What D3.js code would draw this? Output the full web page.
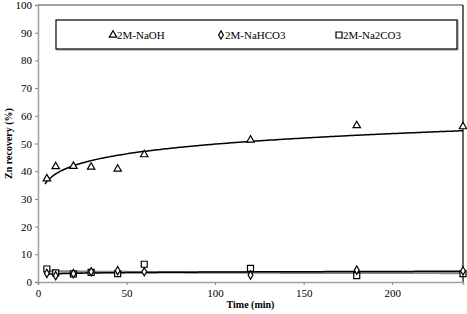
<!DOCTYPE html>
<html>
<head>
<meta charset="utf-8">
<script src="https://cdn.jsdelivr.net/npm/d3@7"></script>
<style>
  body { margin: 0; background: #fff; }
</style>
</head>
<body>
<div id="chart"></div>
<script>
// Data
const times = [5, 10, 20, 30, 45, 60, 120, 180, 240];
const naoh = [37.3, 41.7, 41.8, 41.5, 40.8, 46, 51.3, 56.5, 56.1];
const nahco3 = [3.1, 2.3, 3.0, 3.7, 4.1, 3.7, 2.5, 4.3, 4.0];
const na2co3 = [4.7, 3.3, 2.9, 3.5, 3.0, 6.4, 4.9, 2.3, 3.0];
const xTicks = [0, 50, 100, 150, 200];
const yTicks = [0, 10, 20, 30, 40, 50, 60, 70, 80, 90, 100];

const FONT = "Liberation Serif";
const width = 467, height = 314;
const margin = { top: 5, right: 4, bottom: 32, left: 38 };
const w = width - margin.left - margin.right;
const h = height - margin.top - margin.bottom;

const svg = d3.select("#chart").append("svg")
    .attr("width", width)
    .attr("height", height)
    .attr("font-family", FONT);

const g = svg.append("g")
    .attr("transform", `translate(${margin.left},${margin.top})`);

const x = d3.scaleLinear().domain([0, 240]).range([0, w]);
const y = d3.scaleLinear().domain([0, 100]).range([h, 0]);

// power trendline (least squares on log-log), like a spreadsheet fit
function powerFit(xs, ys) {
    const lx = xs.map(Math.log), ly = ys.map(Math.log);
    const mx = d3.mean(lx), my = d3.mean(ly);
    const b = d3.sum(lx, (v, i) => (v - mx) * (ly[i] - my)) / d3.sum(lx, v => (v - mx) ** 2);
    const a = Math.exp(my - b * mx);
    return t => a * Math.pow(t, b);
}

// frame: top gray, right black
g.append("line").attr("x1", 0).attr("x2", w).attr("y1", 0).attr("y2", 0)
    .attr("stroke", "#808080").attr("stroke-width", 1.5);
g.append("line").attr("x1", w).attr("x2", w).attr("y1", 0).attr("y2", h)
    .attr("stroke", "#000").attr("stroke-width", 1.2);

// axes
const yAxis = g.append("g")
    .call(d3.axisLeft(y).tickValues(yTicks).tickSize(3).tickPadding(3));
const xAxis = g.append("g")
    .attr("transform", `translate(0,${h})`)
    .call(d3.axisBottom(x).tickValues(xTicks).tickSize(3).tickPadding(4));

[xAxis, yAxis].forEach(a => {
    a.attr("font-family", FONT).attr("font-size", 11);
    a.select(".domain").attr("stroke", "#a0a0a0").attr("stroke-width", 1.5);
    a.selectAll(".tick line").attr("stroke", "#808080");
    a.selectAll("text").attr("fill", "#000").attr("font-family", FONT);
});

// trendlines
const tGrid = d3.range(4, 240.01, 1);
const lineFor = f => d3.line().x(t => x(t)).y(t => y(f(t)))(tGrid);
const lineFrom5 = f => d3.line().x(t => x(t)).y(t => y(f(t)))(tGrid.filter(t => t >= 5));

g.append("path").attr("d", lineFrom5(powerFit(times, na2co3)))
    .attr("fill", "none").attr("stroke", "#888").attr("stroke-width", 2.5);
g.append("path").attr("d", lineFrom5(powerFit(times, nahco3)))
    .attr("fill", "none").attr("stroke", "#000").attr("stroke-width", 1.5);
g.append("path").attr("d", lineFor(powerFit(times, naoh)))
    .attr("fill", "none").attr("stroke", "#000").attr("stroke-width", 1.5);

// markers
const tri = d3.symbol().type(d3.symbolTriangle).size(24);
const dia = d3.symbol().type(d3.symbolDiamond).size(20);
const sq = d3.symbol().type(d3.symbolSquare).size(36);

function markers(vals, sym, cls) {
    g.selectAll("path." + cls)
        .data(vals)
        .enter()
        .append("path")
        .attr("class", cls)
        .attr("d", sym)
        .attr("transform", (d, i) => `translate(${x(times[i])},${y(d)})`)
        .attr("fill", "#fff")
        .attr("stroke", "#000")
        .attr("stroke-width", 1.2);
}
markers(na2co3, sq, "sq");
markers(nahco3, dia, "dia");
markers(naoh, tri, "tri");

// legend
const legend = svg.append("g").attr("transform", "translate(56,20)");
legend.append("rect").attr("x", 1).attr("y", 1).attr("width", 401).attr("height", 29)
    .attr("fill", "none").attr("stroke", "#909090").attr("stroke-width", 1);
legend.append("rect").attr("width", 401).attr("height", 29)
    .attr("fill", "#fff").attr("stroke", "#000").attr("stroke-width", 1.2);

const legendItems = [
    { label: "2M-NaOH", sym: tri, x: 57 },
    { label: "2M-NaHCO3", sym: dia, x: 165 },
    { label: "2M-Na2CO3", sym: sq, x: 283 }
];
legendItems.forEach(it => {
    legend.append("path").attr("d", it.sym)
        .attr("transform", `translate(${it.x},${15})`)
        .attr("fill", "#fff").attr("stroke", "#000").attr("stroke-width", 1.2);
    legend.append("text").attr("x", it.x + 4).attr("y", 19)
        .attr("font-family", FONT).attr("font-size", 11)
        .text(it.label);
});

// axis titles
svg.append("text")
    .attr("text-anchor", "middle")
    .attr("x", margin.left + w / 2)
    .attr("y", 308)
    .attr("font-family", FONT)
    .attr("font-size", 10)
    .attr("font-weight", "bold")
    .text("Time (min)");

svg.append("text")
    .attr("text-anchor", "middle")
    .attr("transform", "rotate(-90)")
    .attr("x", -(margin.top + h / 2))
    .attr("y", 12)
    .attr("font-family", FONT)
    .attr("font-size", 10)
    .attr("font-weight", "bold")
    .text("Zn recovery (%)");
</script>
</body>
</html>
